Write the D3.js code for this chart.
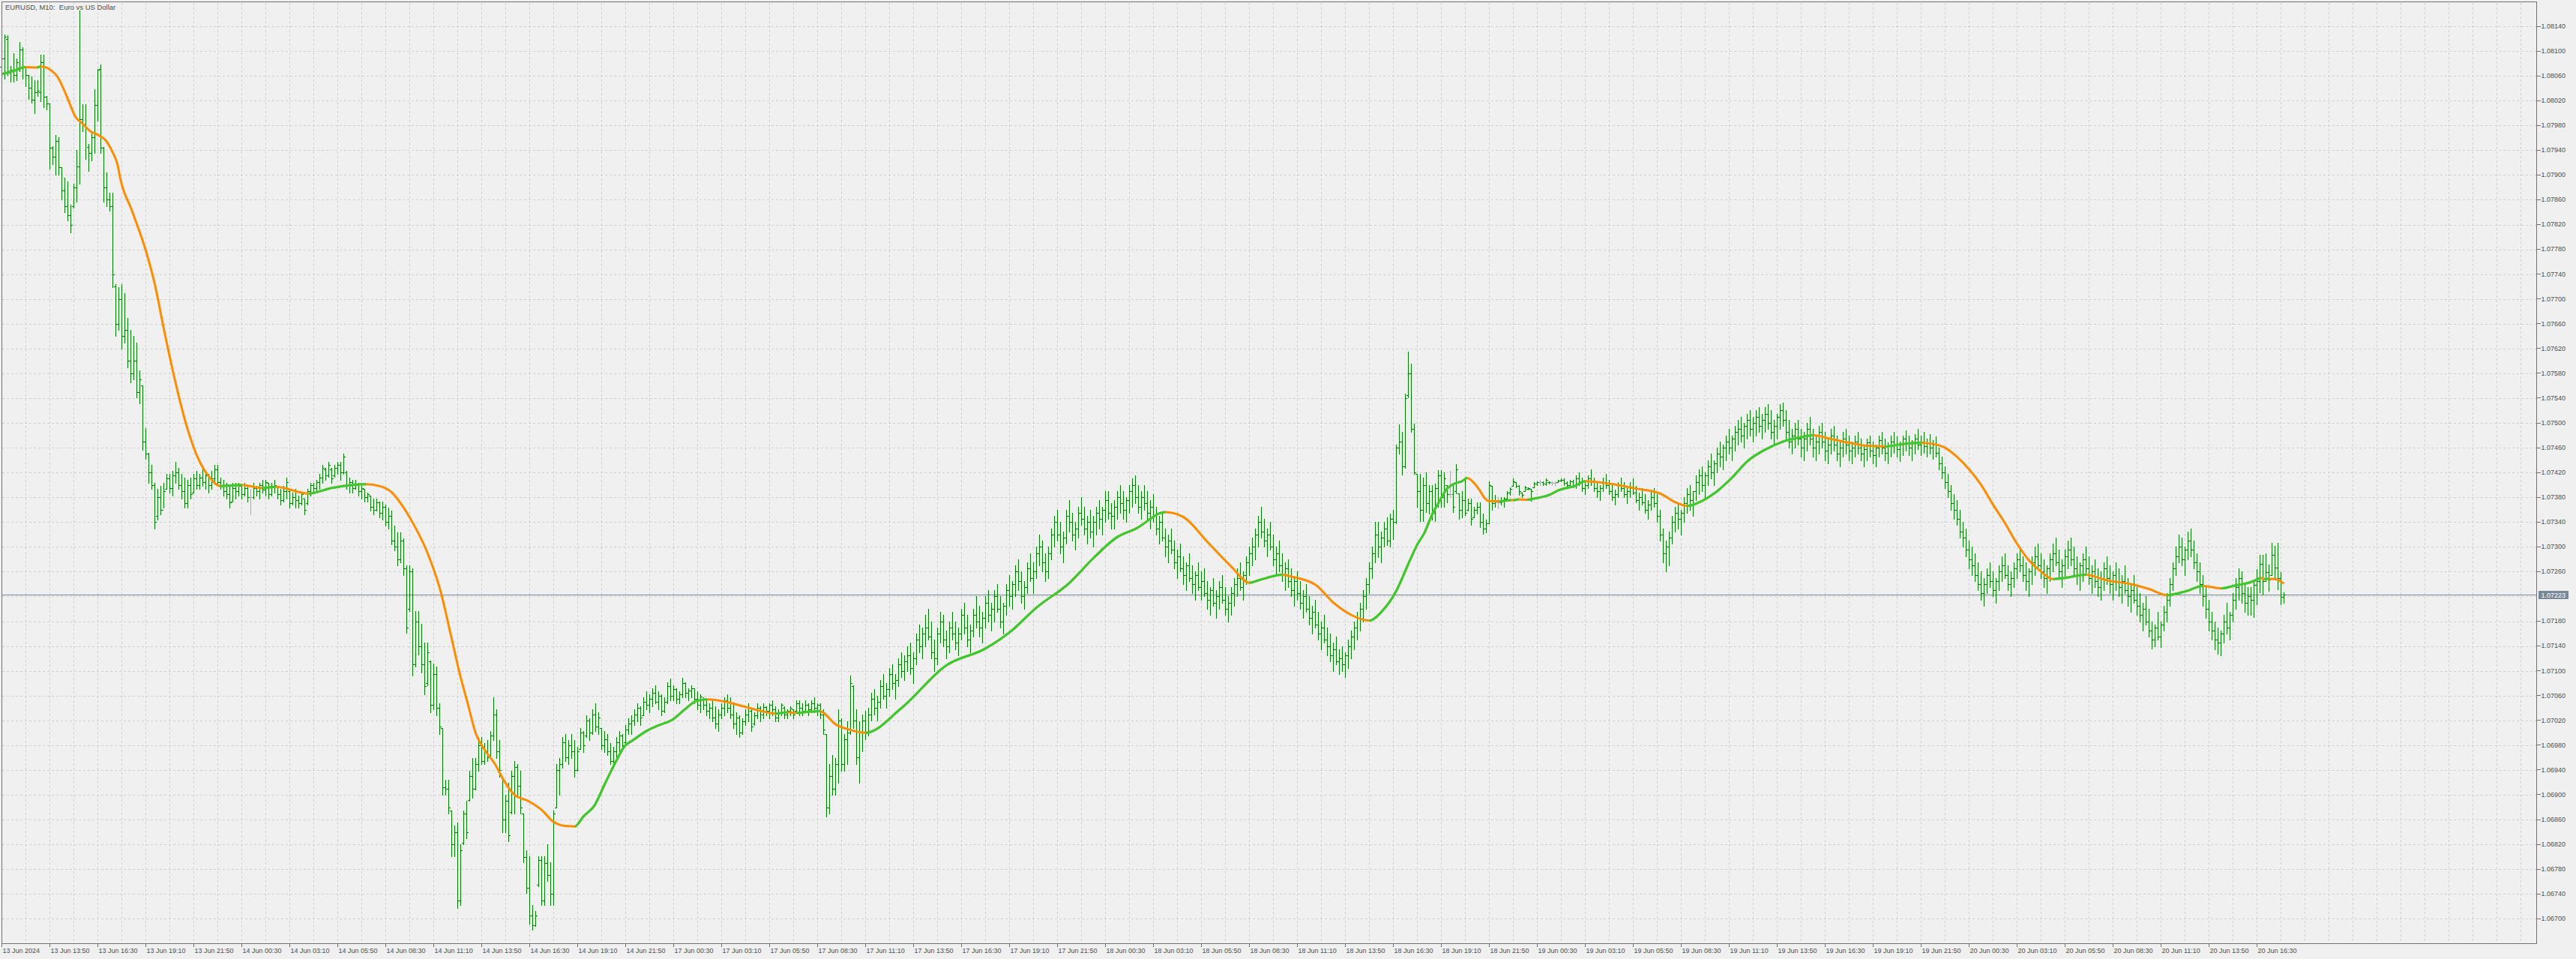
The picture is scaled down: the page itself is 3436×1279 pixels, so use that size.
<!DOCTYPE html>
<html><head><meta charset="utf-8">
<script src="https://cdn.jsdelivr.net/npm/d3@7"></script>
<style>
html,body{margin:0;padding:0;background:#f0f0f0;}
svg{display:block;}
</style></head><body>
<svg id="chart" width="3436" height="1279"></svg>
<script>
// ---------------- DATA ----------------
const symbolTitle = "EURUSD, M10:  Euro vs US Dollar";
const basePrice = 1.06700;      // values below are in points (0.00001) above this price
const pointSize = 0.00001;
const lastPrice = 1.07223;

const barHigh = [
1400,1427,1426,1376,1396,1388,1415,1406,1376,1361,
1359,1353,1353,1394,1394,1327,1315,1246,1265,1261,
1212,1196,1190,1152,1186,1240,1465,1314,1314,1250,
1267,1338,1371,1378,1245,1204,1172,1172,1024,1019,
1024,1009,969,950,940,930,885,861,792,752,
732,703,693,698,703,718,718,722,737,727,
718,712,708,712,718,722,718,727,722,718,
722,732,732,712,708,703,698,703,703,703,
698,703,698,693,703,698,703,708,708,703,
703,708,698,693,698,712,693,688,693,683,
688,678,693,703,703,708,718,732,727,737,
727,732,737,737,750,722,712,708,708,703,
698,693,688,683,678,678,673,673,668,663,
658,634,624,624,614,570,570,565,496,496,
476,446,446,417,412,407,348,308,224,224,
175,150,155,120,175,190,239,259,259,293,
293,283,288,303,357,338,288,229,200,219,
239,254,249,239,170,111,101,22,12,101,
101,101,120,91,175,249,259,293,298,288,
298,288,278,308,303,328,323,338,348,333,
308,303,298,283,278,293,303,298,313,323,
328,338,348,343,357,367,362,372,377,367,
362,357,382,387,377,372,367,389,382,372,
377,372,367,362,357,352,348,352,343,338,
348,357,362,357,348,333,328,323,338,348,
338,333,348,343,348,343,348,352,343,338,
348,343,338,343,338,352,352,348,352,348,
352,357,348,348,338,298,249,264,259,338,
323,298,318,392,377,338,318,330,335,340,
365,370,360,385,395,380,405,410,395,420,
430,425,440,445,430,460,475,470,490,500,
480,450,470,495,490,465,480,495,480,470,
500,510,490,475,500,520,505,495,520,530,
510,530,540,520,510,540,555,545,570,580,
560,545,575,590,575,600,620,610,590,600,
630,650,660,640,625,660,675,655,640,665,
680,665,650,660,650,665,675,665,690,690,
670,675,690,700,690,680,700,710,715,700,
690,700,690,675,685,665,650,655,630,620,
630,610,595,605,585,575,590,570,560,575,
560,565,545,535,550,530,545,555,535,520,
535,550,565,575,560,585,600,615,630,650,
665,645,630,640,620,600,610,590,575,580,
565,550,560,545,530,540,520,505,515,495,
480,490,470,460,445,455,435,440,430,450,
465,480,495,510,530,550,575,600,640,640,
625,640,648,654,660,765,798,785,847,915,
896,799,718,718,712,720,700,700,702,724,
724,720,700,722,702,734,686,690,710,678,
678,664,672,672,654,644,706,698,684,680,
680,680,690,696,710,704,700,688,698,696,
693,704,706,708,706,710,706,706,706,708,
710,710,706,708,708,715,720,712,705,715,
725,712,705,700,712,718,708,700,692,705,
712,705,695,705,710,698,688,695,685,675,
690,695,685,660,630,610,625,650,665,670,
660,680,695,700,690,715,725,730,720,740,
750,740,760,770,765,780,790,780,795,805,
810,800,815,820,810,820,825,815,825,830,
820,805,815,830,833,820,805,790,800,805,
790,785,800,810,790,780,795,800,785,775,
790,795,780,770,785,790,780,770,780,785,
775,765,775,780,770,765,780,785,775,768,
780,785,778,770,780,788,780,772,782,790,
780,785,775,782,772,778,760,745,730,718,
700,685,675,660,640,630,610,600,590,575,
560,550,565,575,560,550,570,585,590,570,
560,575,590,600,585,575,565,585,600,605,
590,580,570,590,605,615,595,580,595,610,
615,600,585,575,590,600,585,570,580,565,
560,575,585,570,560,575,565,555,570,550,
540,555,535,525,510,520,500,480,475,495,
480,505,525,550,575,600,620,615,600,625,
630,610,590,575,555,535,515,495,480,470,
465,490,510,495,525,550,565,560,540,535,
535,543,564,587,587,590,571,607,602,606,
559,527];

const barLow = [
1370,1355,1361,1351,1351,1353,1367,1355,1343,1323,
1317,1300,1327,1319,1309,1306,1210,1218,1200,1200,
1160,1140,1127,1107,1147,1157,1186,1271,1226,1206,
1224,1236,1287,1236,1157,1150,1142,1019,940,950,
920,930,890,865,870,841,831,757,742,703,
693,629,644,653,663,693,688,683,703,693,
678,663,663,678,688,693,693,698,693,688,
693,703,698,693,683,678,663,673,678,683,
678,683,673,653,678,683,678,688,683,678,
683,688,678,668,673,678,663,668,663,663,
668,653,668,683,688,688,693,703,708,713,
703,713,718,708,718,693,688,688,693,683,
678,673,673,658,653,658,648,644,634,629,
604,594,570,575,555,461,496,392,407,426,
397,362,377,333,338,328,298,200,200,170,
101,101,17,22,120,130,190,195,209,239,
249,249,254,259,288,259,229,140,140,125,
170,170,200,170,91,42,-8,-18,-12,52,
22,22,61,22,22,180,200,244,254,249,
259,229,239,274,269,293,288,298,303,298,
274,269,264,249,244,259,269,274,283,298,
298,313,318,313,328,338,333,343,348,338,
328,333,348,352,352,348,348,357,357,352,
357,348,338,333,338,328,323,318,308,303,
323,328,333,323,308,298,293,298,313,318,
303,313,323,318,323,328,323,328,318,318,
328,323,323,328,323,333,328,328,333,328,
333,333,328,323,298,165,170,200,200,219,
239,239,249,298,308,249,219,270,290,295,
320,330,320,340,355,340,360,370,355,375,
390,385,400,395,380,410,430,420,440,450,
420,400,410,445,440,420,430,450,435,425,
450,460,440,430,455,470,455,445,470,480,
465,480,495,470,460,490,505,500,520,530,
510,500,525,545,525,550,570,560,545,550,
580,600,610,590,575,605,625,610,595,615,
635,620,605,615,600,620,630,620,640,645,
630,630,645,655,645,640,655,665,670,655,
645,660,645,630,640,620,605,610,585,575,
590,565,550,560,540,530,545,525,515,530,
515,520,500,490,505,485,500,510,490,480,
490,505,520,530,515,540,555,570,580,600,
615,600,585,595,570,555,560,545,530,535,
520,505,515,500,485,495,475,460,470,450,
435,445,425,415,400,410,395,400,390,405,
420,435,450,465,480,500,525,550,575,583,
575,601,603,601,613,638,750,716,728,841,
785,718,664,642,642,656,654,644,642,664,
664,664,672,680,656,686,645,648,651,658,
636,648,654,632,621,623,638,660,664,662,
668,664,678,684,698,696,684,680,690,692,
674,696,700,700,700,700,702,700,699,704,
706,700,698,700,696,695,700,690,685,695,
700,690,680,675,690,695,685,675,668,680,
690,680,670,680,685,672,660,668,655,645,
660,665,640,610,575,560,570,605,625,630,
620,640,655,660,650,675,685,690,680,700,
710,700,720,730,725,740,750,740,755,765,
770,760,775,780,770,780,785,775,785,790,
775,765,775,790,795,775,760,750,760,765,
745,740,755,765,745,740,750,760,740,735,
750,755,740,730,745,750,740,735,745,750,
740,730,740,745,735,730,745,750,740,735,
745,752,745,738,748,755,748,740,750,758,
748,752,745,750,742,745,725,710,695,680,
660,645,635,615,600,585,565,555,545,530,
515,505,525,535,520,510,530,545,550,530,
520,535,550,560,545,530,520,540,555,565,
550,535,525,545,560,570,550,535,550,565,
570,555,540,530,545,555,540,525,535,520,
515,530,540,525,515,530,520,510,525,505,
495,510,490,480,465,475,455,436,440,450,
438,465,480,505,530,555,575,570,555,580,
585,565,545,525,505,485,465,450,435,428,
425,445,460,450,480,500,515,510,495,490,
490,487,507,527,523,545,529,555,549,532,
507,510];

const barOpen = [
1375,1388,1420,1365,1370,1361,1373,1403,1373,1361,
1341,1321,1334,1334,1382,1326,1315,1244,1230,1255,
1212,1175,1150,1135,1150,1180,1214,1290,1281,1245,
1236,1261,1313,1371,1244,1180,1160,1150,1020,960,
1000,940,950,900,880,900,850,861,770,750,
720,700,650,680,660,693,710,695,715,720,
700,690,670,700,688,710,700,712,705,715,
700,710,725,705,698,690,685,673,695,690,
698,685,695,680,680,695,690,700,692,703,
685,698,698,685,675,690,690,670,680,675,
670,678,670,690,700,695,705,712,725,715,
725,715,728,732,720,720,700,705,695,700,
690,693,680,683,665,660,672,655,665,640,
650,610,600,580,610,565,500,560,410,480,
440,410,380,415,345,395,340,308,212,210,
175,120,140,30,122,170,192,230,210,250,
280,255,270,260,295,330,270,229,160,190,
172,230,245,215,170,100,50,5,-10,55,
95,30,90,70,40,180,240,250,285,260,
280,270,240,274,300,295,320,300,330,310,
308,280,290,270,255,270,285,295,285,305,
315,320,330,340,328,350,345,355,365,350,
360,335,350,375,360,370,355,362,380,365,
368,372,355,345,355,345,335,340,325,315,
330,340,352,340,330,315,325,300,318,330,
335,315,328,340,330,342,335,345,338,325,
333,340,330,335,338,335,348,340,335,345,
338,348,340,345,330,298,180,230,210,250,
320,250,290,300,375,320,260,300,320,300,
330,355,340,350,375,360,370,395,380,385,
410,400,415,425,405,420,450,440,460,470,
455,430,420,460,480,450,440,470,460,445,
460,490,470,450,465,490,480,470,485,510,
490,500,520,500,480,505,530,520,540,560,
545,520,535,565,550,560,590,600,575,560,
590,620,640,620,600,615,650,640,620,630,
655,645,630,640,625,640,655,645,660,675,
655,650,665,680,670,660,675,690,700,680,
665,680,670,655,665,650,630,640,615,600,
610,595,575,585,565,555,570,550,540,555,
535,545,525,515,530,510,520,535,515,500,
510,525,540,550,535,555,575,590,600,620,
640,625,610,620,600,580,590,570,555,565,
545,530,545,525,510,520,500,485,495,475,
460,470,450,440,425,435,415,420,410,425,
440,455,470,485,500,520,540,565,590,620,
600,615,630,610,645,640,760,770,730,845,
880,790,718,690,660,700,670,690,655,695,
715,680,700,685,685,690,686,660,675,660,
670,648,660,665,640,630,638,698,670,672,
672,675,678,688,698,704,698,688,690,693,
693,696,702,704,704,702,705,703,703,704,
707,708,703,700,706,700,710,705,695,700,
710,705,695,690,695,705,700,690,680,685,
700,695,685,690,695,688,675,680,672,660,
668,680,670,650,620,590,600,615,640,655,
645,655,670,685,675,690,705,715,700,715,
730,720,735,750,745,760,770,760,775,785,
790,780,795,805,790,800,810,795,805,815,
800,785,795,810,820,805,785,770,780,790,
775,760,775,790,775,760,770,785,770,755,
765,780,765,750,760,775,765,755,760,770,
760,750,758,768,755,748,760,772,760,752,
762,770,765,758,765,775,768,760,768,775,
765,770,762,768,760,765,752,735,720,705,
690,670,660,645,625,615,595,580,570,555,
540,525,540,555,545,530,545,560,570,555,
540,550,565,580,570,555,545,560,575,585,
570,560,550,565,580,590,575,560,570,585,
595,580,565,555,570,580,565,550,560,545,
535,550,565,550,540,555,545,535,545,530,
520,530,515,505,490,500,480,465,450,470,
455,475,495,515,540,565,585,600,580,595,
610,595,575,560,540,520,500,480,465,450,
445,460,480,470,490,515,535,550,525,510,
520,514,539,545,572,545,559,555,587,566,
550,519];

const barClose = [
1388,1423,1365,1370,1361,1382,1403,1373,1361,1341,
1321,1334,1336,1382,1326,1315,1244,1230,1255,1213,
1175,1150,1135,1120,1180,1214,1290,1281,1275,1236,
1261,1313,1370,1244,1180,1160,1150,1040,960,1000,
940,950,900,880,900,850,870,770,750,720,
700,640,680,660,690,710,695,715,720,700,
690,670,700,685,710,700,712,705,715,700,
710,725,705,698,690,685,672,695,690,698,
685,695,680,680,695,690,700,692,705,685,
698,700,685,675,690,705,670,680,675,670,
685,660,690,700,695,705,712,728,715,732,
710,728,732,720,745,700,705,695,700,690,
695,680,685,665,660,672,655,665,640,650,
610,600,580,610,565,470,560,410,480,440,
410,375,430,345,395,340,310,212,210,180,
120,140,30,110,170,140,230,210,250,280,
255,270,260,295,330,270,240,160,190,135,
230,245,215,180,100,50,5,-10,5,95,
30,90,70,40,170,240,250,285,260,280,
270,240,270,300,280,320,300,330,310,325,
280,290,270,255,270,285,295,280,305,315,
320,330,340,325,350,345,355,365,350,360,
335,350,375,360,370,355,362,380,365,368,
372,355,345,358,345,335,340,325,315,330,
340,352,340,330,315,325,300,318,330,340,
310,328,340,330,342,335,345,338,325,333,
345,330,335,340,330,348,340,335,345,338,
348,340,345,330,305,180,230,210,250,320,
250,290,300,380,320,260,300,320,300,330,
355,340,350,375,360,370,395,380,385,410,
400,415,425,405,420,450,440,460,470,455,
430,420,460,480,450,440,470,460,445,460,
490,470,450,465,490,480,470,485,510,490,
500,520,500,480,505,530,520,540,560,545,
520,535,565,550,560,590,600,575,560,590,
620,640,620,600,615,650,640,620,630,655,
645,630,640,625,640,655,645,660,675,655,
650,665,680,670,660,675,690,700,680,665,
680,670,655,665,650,630,640,615,600,610,
595,575,585,565,555,570,550,540,555,535,
545,525,515,530,510,520,535,515,500,510,
525,540,550,535,555,575,590,600,620,640,
625,610,620,600,580,590,570,555,565,545,
530,545,525,510,520,500,485,495,475,460,
470,450,440,425,435,415,420,410,425,440,
455,470,485,500,520,540,565,590,620,600,
615,630,610,645,640,760,770,730,840,880,
790,720,690,660,700,670,690,655,695,715,
680,710,685,685,665,725,660,675,655,670,
645,660,665,640,630,638,700,670,675,672,
675,678,688,694,706,698,690,684,696,695,
690,702,704,704,702,708,704,703,703,707,
708,703,700,706,700,710,705,695,700,710,
705,695,690,695,705,700,690,680,685,700,
695,685,690,695,688,675,680,672,660,668,
680,670,650,620,590,600,615,640,655,645,
655,670,685,675,690,705,715,700,715,730,
720,735,750,745,760,770,760,775,785,790,
780,795,805,790,800,810,795,805,815,800,
785,795,810,820,805,785,770,780,790,775,
760,775,790,775,760,770,785,770,755,765,
780,765,750,760,775,765,755,760,770,760,
750,758,768,755,748,760,772,760,752,762,
770,765,758,765,775,768,760,768,775,765,
770,762,768,760,765,752,735,720,705,690,
670,660,645,625,615,595,580,570,555,540,
525,540,555,545,530,545,560,570,555,540,
550,565,580,570,555,545,560,575,585,570,
560,550,565,580,590,575,560,570,585,595,
580,565,555,570,580,565,550,560,545,535,
550,565,550,540,555,545,535,545,530,520,
530,515,505,490,500,480,465,450,470,455,
475,495,515,540,565,585,600,580,595,610,
595,575,560,540,520,500,480,465,450,445,
460,480,470,490,515,535,550,525,510,520,
514,539,545,572,545,559,547,587,566,550,
519,523];

// moving average: bar position and value (points above basePrice)
const maBar = [0,4,7.8,11.8,12.8,14,16.1,18.6,21.1,22.8,
24.4,26.9,29.4,31.9,34.4,36.9,38.6,39.4,43.4,48,
50.8,54.5,58.1,61.8,65.5,69.1,72.8,80,86.7,91.3,
102.3,110,117,121.4,126,130,133.3,137,141.6,146.2,
149.8,152.6,155.3,158.1,160.8,164.5,167.3,170.9,175.5,180.1,
183.8,187.4,191.1,193.9,197.5,201.2,204.8,207.6,210.4,215,
219.5,223.2,227.8,231.4,235.1,241.5,247,252.5,258,262,
265,269,272.7,278.2,282,288,300,315,328,336,
345,356,364,372,378,388,394,402,410,416,
419,427,430,438,444,450,456,460,465,469.4,
471.9,474.4,476.9,479.4,481.9,484.4,486.9,488.6,491.1,492.7,
494.4,495.7,499.4,503.2,504,505.7,508.7,511.1,516.1,519.4,
521.9,524.4,528,536,545,553,558,562,566,572,
577,582,588,594,600,604,610,616,622,628,
634,640,644,648,652,656,660,664,668,672,
676,680,684,688,695,702,710,716,722,728,
734,740,745,749.8,751.9,753.2,754.4,756,757.7,759,
760.2,761];
const maValue = [1363,1368,1374,1373.5,1375,1374.5,1370,1358,1333,1313,
1295,1283,1271,1265,1257,1237,1216,1196,1142,1078,
1028,940,861,792,742,713,698,700,695,697,
686,695,700,701,698,688,668,639,594,530,
456,397,348,298,274,249,224,200,190,175,
157,150,149,165,182,219,254,278,288,303,
313,320,338,351,354,350,343,336,331,333,
332,334,335,313,306,300,340,409,436,462,
502,542,582,616,629,656,648,608,568,542,
546,555,552,539,510,490,481,495,529,577,
603,623,652,674,694,702,706,711,702,692,
679,674,673.5,675.5,675.3,676.5,676,678,684,692,
695,698,706,702,694,686,672,666,672,690,
712,738,757,770,777,780,774,768,763,762,
766,768,766,760,745,725,700,668,638,605,
578,560,548,550,555,546,540,532,522,528,
537,533,538,543,547,550,548,548.5,548,547,
543,541];

const xTickLabels = ["13 Jun 2024",
"13 Jun 13:50","13 Jun 16:30","13 Jun 19:10","13 Jun 21:50",
"14 Jun 00:30","14 Jun 03:10","14 Jun 05:50","14 Jun 08:30","14 Jun 11:10","14 Jun 13:50","14 Jun 16:30","14 Jun 19:10","14 Jun 21:50",
"17 Jun 00:30","17 Jun 03:10","17 Jun 05:50","17 Jun 08:30","17 Jun 11:10","17 Jun 13:50","17 Jun 16:30","17 Jun 19:10","17 Jun 21:50",
"18 Jun 00:30","18 Jun 03:10","18 Jun 05:50","18 Jun 08:30","18 Jun 11:10","18 Jun 13:50","18 Jun 16:30","18 Jun 19:10","18 Jun 21:50",
"19 Jun 00:30","19 Jun 03:10","19 Jun 05:50","19 Jun 08:30","19 Jun 11:10","19 Jun 13:50","19 Jun 16:30","19 Jun 19:10","19 Jun 21:50",
"20 Jun 00:30","20 Jun 03:10","20 Jun 05:50","20 Jun 08:30","20 Jun 11:10","20 Jun 13:50","20 Jun 16:30"];
const barsPerLabel = 16;

const yTickValues = [1.06700,1.06740,1.06780,1.06820,1.06860,1.06900,1.06940,1.06980,1.07020,1.07060,
1.07100,1.07140,1.07180,1.07220,1.07260,1.07300,1.07340,1.07380,1.07420,1.07460,
1.07500,1.07540,1.07580,1.07620,1.07660,1.07700,1.07740,1.07780,1.07820,1.07860,
1.07900,1.07940,1.07980,1.08020,1.08060,1.08100,1.08140];

// ---------------- LAYOUT / STYLE ----------------
const W = 3436, H = 1279;
const plotL = 2.5, plotR = 3383.5, plotT = 2.5, plotB = 1258.5;
const FONT = "'Liberation Sans', Arial, sans-serif";
const textColor = "#4f4f4f";
const barColor = "#008000", dojiColor = "#a9a9a9";
const maUp = "#32cd32", maDown = "#ff8c00";

const svg = d3.select("#chart");
svg.append("rect").attr("width", W).attr("height", H).attr("fill", "#f0f0f0");

const toPrice = v => basePrice + v * pointSize;
const n = barHigh.length;
const x = d3.scaleLinear().domain([0, n - 1]).range([2.5, 2.5 + 4 * (n - 1)]);
const y = d3.scaleLinear().domain([1.06700, 1.08140]).range([1225.3, 35]);

// grid
const grid = svg.append("g").attr("stroke", "#cfcfcf").attr("stroke-width", 1)
  .attr("stroke-dasharray", "3,3").attr("shape-rendering", "crispEdges");
grid.selectAll("line.h").data(yTickValues).join("line").attr("class", "h")
  .attr("x1", plotL).attr("x2", plotR)
  .attr("y1", d => Math.round(y(d)) + 0.5).attr("y2", d => Math.round(y(d)) + 0.5);
const gridBars = d3.range(8, 848, 8);
grid.selectAll("line.v").data(gridBars).join("line").attr("class", "v")
  .attr("x1", d => x(d)).attr("x2", d => x(d))
  .attr("y1", plotT + 1).attr("y2", plotB);

// last price line
const yLast = Math.round(y(lastPrice)) + 0.5;
svg.append("line").attr("x1", plotL).attr("x2", plotR).attr("y1", yLast).attr("y2", yLast)
  .attr("stroke", "#778899").attr("stroke-width", 1).attr("shape-rendering", "crispEdges");

// OHLC bars
const bars = d3.range(n).map(i => ({
  i, h: toPrice(barHigh[i]), l: toPrice(barLow[i]), o: toPrice(barOpen[i]), c: toPrice(barClose[i]),
  doji: barOpen[i] === barClose[i]
}));
const gBars = svg.append("g").attr("shape-rendering", "crispEdges");
const col = d => d.doji ? dojiColor : barColor;
gBars.selectAll("rect.hl").data(bars).join("rect").attr("class", "hl")
  .attr("x", d => x(d.i) - 0.5).attr("width", 1)
  .attr("y", d => Math.round(y(d.h)))
  .attr("height", d => Math.max(1, Math.round(y(d.l)) - Math.round(y(d.h)) + 1))
  .attr("fill", col);
gBars.selectAll("rect.op").data(bars).join("rect").attr("class", "op")
  .attr("x", d => x(d.i) - 2.5).attr("width", 2)
  .attr("y", d => Math.round(y(d.o))).attr("height", 1).attr("fill", col);
gBars.selectAll("rect.cl").data(bars).join("rect").attr("class", "cl")
  .attr("x", d => x(d.i) + 0.5).attr("width", 2)
  .attr("y", d => Math.round(y(d.c))).attr("height", 1).attr("fill", col);

// moving average, coloured by direction
const maPts = maBar.map((b, k) => ({ b, v: toPrice(maValue[k]) }));
const maLine = d3.line().x(d => x(d.b)).y(d => y(d.v)).curve(d3.curveMonotoneX);
const defs = svg.append("defs");
const clip = defs.append("clipPath").attr("id", "maRise");
const rises = [];
for (let k = 0; k < maPts.length - 1; k++) {
  if (maValue[k + 1] > maValue[k]) {
    const x0 = x(maBar[k]), x1 = x(maBar[k + 1]);
    if (rises.length && Math.abs(rises[rises.length - 1][1] - x0) < 0.01) rises[rises.length - 1][1] = x1;
    else rises.push([x0, x1]);
  }
}
const xFirst = x(maBar[0]), xLastMa = x(maBar[maBar.length - 1]);
clip.selectAll("rect").data(rises).join("rect")
  .attr("x", d => d[0] - (d[0] <= xFirst ? 3 : 0))
  .attr("width", d => d[1] - d[0] + (d[0] <= xFirst ? 3 : 0) + (d[1] >= xLastMa ? 3 : 0))
  .attr("y", 0).attr("height", H);
svg.append("path").datum(maPts).attr("d", maLine).attr("fill", "none")
  .attr("stroke", maDown).attr("stroke-width", 3).attr("stroke-linejoin", "round");
svg.append("path").datum(maPts).attr("d", maLine).attr("fill", "none")
  .attr("stroke", maUp).attr("stroke-width", 3).attr("stroke-linejoin", "round")
  .attr("clip-path", "url(#maRise)");

// frame
svg.append("rect").attr("x", plotL).attr("y", plotT).attr("width", plotR - plotL).attr("height", plotB - plotT)
  .attr("fill", "none").attr("stroke", "#707070").attr("stroke-width", 1).attr("shape-rendering", "crispEdges");

// Y axis (right)
const yShown = yTickValues.filter(v => Math.abs(y(v) - y(lastPrice)) > 8);
const yAxis = d3.axisRight(y).tickValues(yShown).tickSize(5).tickPadding(1).tickFormat(d3.format(".5f"));
const gy = svg.append("g").attr("transform", `translate(${plotR},-0.5)`).call(yAxis);
gy.select(".domain").remove();
gy.selectAll("line").attr("stroke", "#707070").attr("shape-rendering", "crispEdges");
gy.selectAll("text").attr("font-family", FONT).attr("font-size", "9px").attr("fill", textColor);

// X axis (bottom)
const xTickBars = xTickLabels.map((_, k) => k * barsPerLabel);
const xAxis = d3.axisBottom(x).tickValues(xTickBars).tickSize(4).tickFormat((d, k) => xTickLabels[k]);
const gx = svg.append("g").attr("transform", `translate(-0.5,${plotB})`).call(xAxis);
gx.select(".domain").remove();
gx.selectAll("line").attr("stroke", "#707070").attr("shape-rendering", "crispEdges");
gx.selectAll("text").attr("font-family", FONT).attr("font-size", "9px").attr("fill", textColor)
  .attr("text-anchor", "start").attr("x", 1).attr("y", 12.5).attr("dy", null);

// last price label
svg.append("rect").attr("x", 3386).attr("y", yLast - 5.5).attr("width", 40).attr("height", 11).attr("fill", "#778899");
svg.append("text").attr("x", 3389.5).attr("y", yLast + 3.5).attr("font-family", FONT).attr("font-size", "9px")
  .attr("fill", "#ffffff").text(d3.format(".5f")(lastPrice));

// title
svg.append("text").attr("x", 7).attr("y", 12.6).attr("font-family", FONT).attr("font-size", "9.5px")
  .attr("fill", textColor).style("white-space", "pre").text(symbolTitle);
</script>
</body></html>
